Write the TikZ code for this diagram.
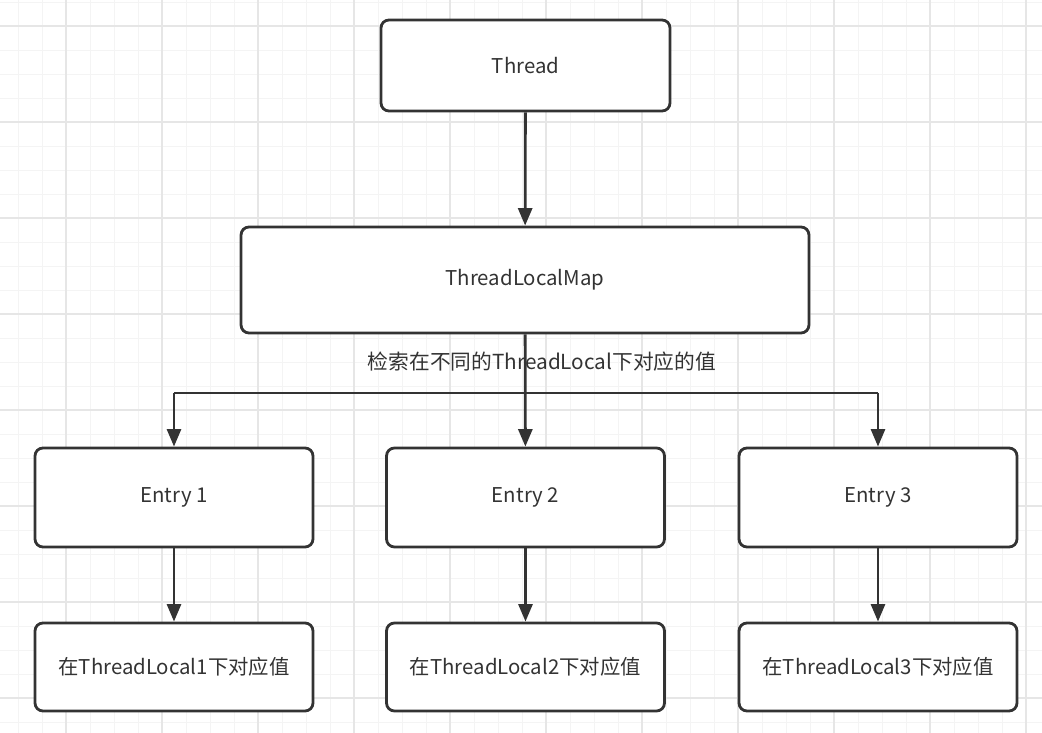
\documentclass[tikz,border=0pt]{standalone}
\usepackage{fontspec}
\setmainfont{Noto Sans CJK SC}
\usepackage{tikz}
\usetikzlibrary{arrows.meta,positioning,calc}

\definecolor{ink}{HTML}{333333}
\definecolor{gridminor}{HTML}{F4F4F4}
\definecolor{gridmajor}{HTML}{E6E6E6}

\tikzset{
  box/.style={shape=rectangle,draw=ink,fill=white,line width=1.6pt,rounded corners=4.5pt,
    text=ink,font=\fontsize{11.6pt}{13pt}\selectfont,inner sep=0pt},
  link/.style={draw=ink,line width=1.6pt},
  arr/.style={link,-{Triangle[length=10pt,width=8pt]}}
}

\begin{document}
\begin{tikzpicture}[x=0.02cm,y=-0.02cm]
\useasboundingbox (0,0) rectangle (1042,733);
\fill[white] (0,0) rectangle (1042,733);
% background grid
\foreach \gx in {18,42,...,1042} \draw[gridminor,line width=0.5pt] (\gx,0) -- (\gx,733);
\foreach \gy in {2,26,...,733} \draw[gridminor,line width=0.5pt] (0,\gy) -- (1042,\gy);
\foreach \gx in {66,162,...,1042} \draw[gridmajor,line width=0.6pt] (\gx,0) -- (\gx,733);
\foreach \gy in {26,122,...,733} \draw[gridmajor,line width=0.6pt] (0,\gy) -- (1042,\gy);

\node[box,minimum width=5.78cm,minimum height=1.82cm] (thread) at (525.5,65.5) {Thread};
\node[box,minimum width=11.36cm,minimum height=2.12cm] (tlm) at (525,280) {ThreadLocalMap};

\node[box,minimum width=5.56cm,minimum height=1.98cm] (e1) at (174,497.5) {Entry 1};
\node[box,minimum width=5.56cm,minimum height=1.98cm] (e2) at (525.5,497.5) {Entry 2};
\node[box,minimum width=5.56cm,minimum height=1.98cm] (e3) at (878,497.5) {Entry 3};

\node[box,minimum width=5.56cm,minimum height=1.76cm] (v1) at (174,667) {在ThreadLocal1下对应值};
\node[box,minimum width=5.56cm,minimum height=1.76cm] (v2) at (525.5,667) {在ThreadLocal2下对应值};
\node[box,minimum width=5.56cm,minimum height=1.76cm] (v3) at (878,667) {在ThreadLocal3下对应值};

\coordinate (bl) at (174,393);
\coordinate (br) at (878,393);

\draw[arr] (thread) -- (tlm);
\draw[arr] (tlm) -- (e2);
\draw[link] (bl) -- (br);
\draw[arr] (bl) -- (e1);
\draw[arr] (br) -- (e3);
\node[text=ink,font=\fontsize{11.8pt}{13pt}\selectfont] (lookup) at (542,362) {检索在不同的ThreadLocal下对应的值};

\draw[arr] (e1) -- (v1);
\draw[arr] (e2) -- (v2);
\draw[arr] (e3) -- (v3);
\end{tikzpicture}
\end{document}
